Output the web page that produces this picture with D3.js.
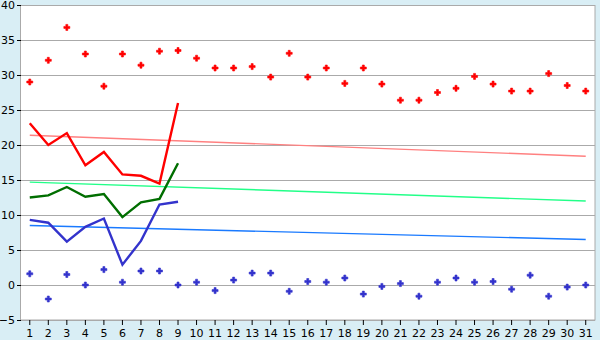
<!DOCTYPE html>
<html>
<head>
<meta charset="utf-8">
<script src="https://cdn.jsdelivr.net/npm/d3@7"></script>
<style>
  html, body { margin: 0; padding: 0; background: #d9eef5; }
  svg { display: block; }
  .axis text { font-family: "DejaVu Sans", Verdana, sans-serif; font-size: 11px; fill: #000; }
  .axis line { stroke: #000; }
  .axis path { display: none; }
  .grid line { stroke: #aaaaaa; }
  .grid path { display: none; }
</style>
</head>
<body>
<div id="chart"></div>
<script>
// Daily values, days 1..31

const days = d3.range(1, 32);
const yTicks = [-5, 0, 5, 10, 15, 20, 25, 30, 35, 40];

// Upper scatter (red markers)
const highPoints = [29.0, 32.1, 36.8, 33.0, 28.4, 33.0, 31.4, 33.4, 33.5, 32.4,
  31.0, 31.0, 31.2, 29.7, 33.1, 29.7, 31.0, 28.8, 31.0, 28.7,
  26.4, 26.4, 27.5, 28.1, 29.8, 28.7, 27.7, 27.7, 30.2, 28.5, 27.7];

// Lower scatter (blue markers)
const lowPoints = [1.6, -2.0, 1.5, 0.0, 2.2, 0.4, 2.0, 2.0, 0.0, 0.4,
  -0.8, 0.7, 1.7, 1.7, -0.9, 0.5, 0.4, 1.0, -1.3, -0.2,
  0.2, -1.6, 0.4, 1.0, 0.4, 0.5, -0.6, 1.4, -1.6, -0.3, 0.0];

// Lines, days 1..9 only
const redLine = [23.1, 20.0, 21.7, 17.1, 19.0, 15.8, 15.6, 14.5, 26.0];
const greenLine = [12.5, 12.8, 14.0, 12.6, 13.0, 9.7, 11.8, 12.3, 17.4];
const blueLine = [9.3, 8.9, 6.2, 8.3, 9.5, 2.9, 6.3, 11.5, 11.9];

// Trend lines: value at day 1 and at day 31
const trendDays = [1, 31];
const redTrend = [21.4, 18.4];
const greenTrend = [14.7, 12.0];
const blueTrend = [8.5, 6.5];

// SVG dimensions
const width = 600;
const height = 340;

const margin = { top: 5, right: 5, bottom: 20, left: 21 };

const svg = d3.select("#chart")
  .append("svg")
  .attr("width", width)
  .attr("height", height);

const chartWidth = width - margin.left - margin.right;
const chartHeight = height - margin.top - margin.bottom;

const chart = svg.append("g")
  .attr("transform", `translate(${margin.left}, ${margin.top})`);

// Scales
const xScale = d3.scaleBand()
  .domain(days)
  .range([-0.5, chartWidth]);

const xPos = d => xScale(d) + xScale.bandwidth() / 2;

const yScale = d3.scaleLinear()
  .domain([-5, 40])
  .range([chartHeight, 0]);

// Plot background
chart.append("rect")
  .attr("width", chartWidth)
  .attr("height", chartHeight)
  .attr("fill", "#fff");

// Grid lines
chart.append("g")
  .attr("class", "grid")
  .call(d3.axisLeft(yScale).tickValues(yTicks).tickSize(-chartWidth).tickFormat(""));

// Frame
chart.append("rect")
  .attr("x", -0.5)
  .attr("y", 0.5)
  .attr("width", chartWidth + 0.5)
  .attr("height", chartHeight - 0.5)
  .attr("fill", "none")
  .attr("stroke", "#aaaaaa");

// Axes
chart.append("g")
  .attr("class", "axis")
  .call(d3.axisLeft(yScale).tickValues(yTicks).tickSize(4).tickPadding(2));

chart.append("g")
  .attr("class", "axis")
  .attr("transform", `translate(0, ${chartHeight})`)
  .call(d3.axisBottom(xScale).tickSize(5).tickPadding(4));

// Trend lines
const trendLine = d3.line()
  .x((d, i) => xPos(trendDays[i]))
  .y(d => yScale(d));

[[redTrend, "#ff8080"], [greenTrend, "#22ff88"], [blueTrend, "#1a7aff"]].forEach(([vals, color]) => {
  chart.append("path")
    .datum(vals)
    .attr("fill", "none")
    .attr("stroke", color)
    .attr("stroke-width", 1.4)
    .attr("d", trendLine);
});

// Main lines
const line = d3.line()
  .x((d, i) => xPos(days[i]))
  .y(d => yScale(d));

[[redLine, "#ff0000"], [greenLine, "#006e00"], [blueLine, "#3333cc"]].forEach(([vals, color]) => {
  chart.append("path")
    .datum(vals)
    .attr("fill", "none")
    .attr("stroke", color)
    .attr("stroke-width", 2.4)
    .attr("d", line);
});

// Markers (cross with a thin outline so it reads as a chunky diamond)
const marker = d3.symbol().type(d3.symbolCross).size(20);

chart.selectAll(".high-dot")
  .data(highPoints)
  .enter()
  .append("path")
  .attr("class", "high-dot")
  .attr("transform", (d, i) => `translate(${xPos(days[i])}, ${yScale(d)})`)
  .attr("d", marker)
  .attr("fill", "#ff0000")
  .attr("stroke", "#ff0000")
  .attr("stroke-width", 0.6);

chart.selectAll(".low-dot")
  .data(lowPoints)
  .enter()
  .append("path")
  .attr("class", "low-dot")
  .attr("transform", (d, i) => `translate(${xPos(days[i])}, ${yScale(d)})`)
  .attr("d", marker)
  .attr("fill", "#3333cc")
  .attr("stroke", "#3333cc")
  .attr("stroke-width", 0.6);
</script>
</body>
</html>
